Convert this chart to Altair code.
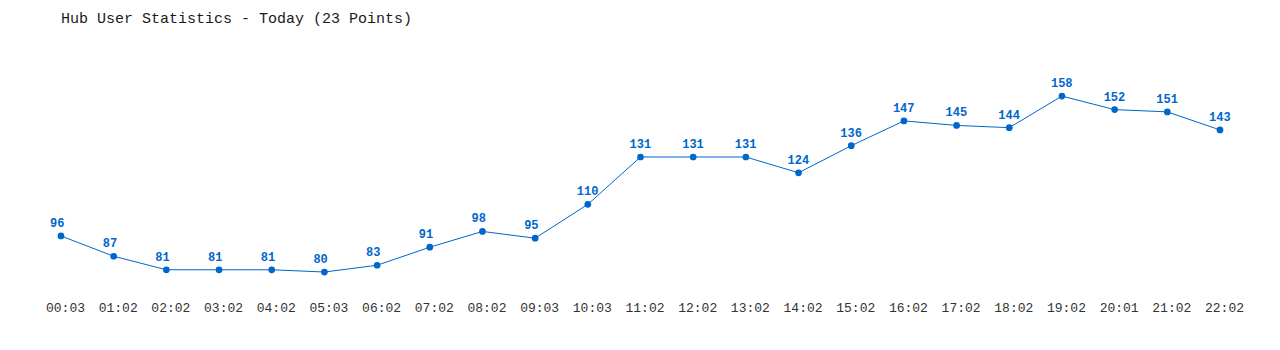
import altair as alt
import pandas as pd

times = ["00:03", "01:02", "02:02", "03:02", "04:02", "05:03", "06:02", "07:02",
         "08:02", "09:03", "10:03", "11:02", "12:02", "13:02", "14:02", "15:02",
         "16:02", "17:02", "18:02", "19:02", "20:01", "21:02", "22:02"]
users = [96, 87, 81, 81, 81, 80, 83, 91, 98, 95, 110, 131, 131, 131, 124, 136,
         147, 145, 144, 158, 152, 151, 143]

df = pd.DataFrame({"time": times, "users": users})
BLUE = "#0066cc"
FONT = "Liberation Mono"

x = alt.X("time:N", sort=times, title=None,
          scale=alt.Scale(type="point", padding=0),
          axis=alt.Axis(labelAngle=0, ticks=False, domain=False, grid=False,
                        labelFont=FONT, labelFontSize=13, labelColor="#333333",
                        labelPadding=1, labelOffset=4))
y = alt.Y("users:Q", axis=None, scale=alt.Scale(domain=[67.6, 187.3], zero=False, nice=False))

base = alt.Chart(df).encode(x=x, y=y)
line = base.mark_line(color=BLUE, strokeWidth=1)
pts = base.mark_circle(color=BLUE, size=45, opacity=1)
txt = base.mark_text(color=BLUE, font=FONT, fontSize=12, fontWeight="bold",
                     baseline="bottom", align="left", dx=-11, dy=-6).encode(text="users:Q")

chart = (line + pts + txt).properties(
    width=1159, height=270,
    title=alt.TitleParams("Hub User Statistics - Today (23 Points)", anchor="start",
                          frame="group", font=FONT, fontSize=15, fontWeight="normal",
                          color="#1a1a1a", offset=4),
    autosize=alt.AutoSizeParams(type="none"),
    padding={"left": 61, "top": 30, "right": 60, "bottom": 50},
).configure_view(stroke=None)

chart.save("out.html", embed_options={"renderer": "svg", "actions": False})
